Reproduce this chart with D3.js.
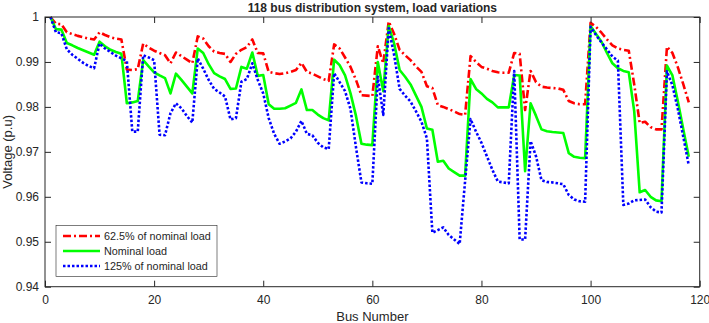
<!DOCTYPE html>
<html>
<head>
<meta charset="utf-8">
<script src="https://cdn.jsdelivr.net/npm/d3@7"></script>
<style>
  body { margin: 0; background: #fff; }
  text { font-family: "Liberation Sans", Arial, sans-serif; fill: #262626; }
</style>
</head>
<body>
<div id="chart"></div>
<script>
// 118 bus distribution system - voltage profile under three load levels

//////////////////////////////////////////////////////////////////////////////
// Data

var buses = d3.range(1, 119);

var v62 = [
  1.0, 0.9985, 0.9984, 0.9966, 0.9962, 0.9958, 0.9955, 0.9952, 0.995, 0.9966,
  0.996, 0.9955, 0.9952, 0.995, 0.9883, 0.9882, 0.9884, 0.9941, 0.9932, 0.9925,
  0.992, 0.9915, 0.9897, 0.9921, 0.9913, 0.9905, 0.9897, 0.9957, 0.9952, 0.9935,
  0.9923, 0.992, 0.9918, 0.990, 0.9918, 0.9927, 0.9933, 0.995, 0.992, 0.9919,
  0.9878, 0.9875, 0.9873, 0.9875, 0.9878, 0.9882, 0.9898, 0.9878, 0.9874, 0.9868,
  0.9862, 0.9858, 0.9939, 0.993, 0.991, 0.9889, 0.986, 0.9826, 0.9825, 0.9824,
  0.9935, 0.9897, 0.999, 0.9962, 0.9927, 0.9915, 0.9904, 0.989, 0.9878, 0.9846,
  0.9842, 0.9804, 0.980, 0.9795, 0.979, 0.9784, 0.9782, 0.9913, 0.990, 0.9889,
  0.9885, 0.988, 0.9877, 0.9876, 0.9876, 0.992, 0.9918, 0.9793, 0.988, 0.9855,
  0.9845, 0.9843, 0.9842, 0.9841, 0.9838, 0.9813, 0.9808, 0.9806, 0.9806, 0.9987,
  0.9978, 0.9965, 0.995, 0.9937, 0.993, 0.9927, 0.9925, 0.985, 0.9764, 0.9767,
  0.9755, 0.975, 0.975, 0.9934, 0.992, 0.9888, 0.985, 0.981
];

var v100 = [
  1.0, 0.9973, 0.9972, 0.9942, 0.9937, 0.9931, 0.9926, 0.9921, 0.9916, 0.9945,
  0.9935, 0.9927, 0.9922, 0.9918, 0.9808, 0.981, 0.9813, 0.9904, 0.989, 0.9877,
  0.987, 0.9864, 0.983, 0.9874, 0.986, 0.9845, 0.983, 0.993, 0.992, 0.9895,
  0.9875, 0.9868, 0.9862, 0.984, 0.9841, 0.9889, 0.9885, 0.9921, 0.9869, 0.9871,
  0.9806, 0.9796, 0.9796, 0.9797, 0.9803, 0.9809, 0.9839, 0.9793, 0.9793, 0.9783,
  0.9775, 0.977, 0.9905, 0.9893, 0.987, 0.983, 0.978, 0.9718, 0.9716, 0.9715,
  0.990, 0.9835, 0.998, 0.9941, 0.9882, 0.9867, 0.985, 0.9825, 0.980, 0.9752,
  0.9749, 0.9678, 0.968, 0.9663, 0.9655, 0.9647, 0.9647, 0.9862, 0.984, 0.983,
  0.9818, 0.981, 0.9799, 0.9799, 0.9799, 0.9871, 0.987, 0.9657, 0.9808, 0.978,
  0.975, 0.9746, 0.9744, 0.9743, 0.9742, 0.9697, 0.9689, 0.9687, 0.9686, 0.998,
  0.9962, 0.9945, 0.992, 0.9897, 0.9886, 0.988, 0.9877, 0.979, 0.961, 0.9615,
  0.960, 0.9592, 0.959, 0.9892, 0.987, 0.9812, 0.975, 0.9689
];

var v125 = [
  1.0, 0.9966, 0.9964, 0.9928, 0.9916, 0.9907, 0.9898, 0.9891, 0.9886, 0.9941,
  0.993, 0.9922, 0.9914, 0.9908, 0.9902, 0.9745, 0.9745, 0.9915, 0.991, 0.9904,
  0.9738, 0.9737, 0.9786, 0.9808, 0.9797, 0.978, 0.9765, 0.9908, 0.9885, 0.986,
  0.984, 0.9832, 0.9823, 0.9772, 0.9775, 0.9856, 0.9862, 0.9897, 0.986, 0.983,
  0.9775, 0.974, 0.9718, 0.9723, 0.973, 0.9745, 0.9769, 0.974, 0.9737, 0.972,
  0.971, 0.9706, 0.9875, 0.9855, 0.9835, 0.9795, 0.971, 0.9632, 0.963, 0.9629,
  0.9867, 0.9782, 0.9975, 0.9915, 0.984, 0.9825, 0.9812, 0.979, 0.9767, 0.973,
  0.952, 0.9526, 0.9532, 0.9515, 0.9505, 0.9495, 0.9635, 0.9773, 0.9745, 0.972,
  0.969, 0.966, 0.9634, 0.9632, 0.963, 0.988, 0.9505, 0.9505, 0.9724, 0.969,
  0.9637, 0.9633, 0.9632, 0.963, 0.9628, 0.9604, 0.9594, 0.959, 0.9589, 0.9978,
  0.996, 0.9943, 0.9928, 0.9912, 0.9903, 0.9582, 0.9585, 0.9592, 0.9593, 0.9594,
  0.9577, 0.9567, 0.9565, 0.9879, 0.9848, 0.9795, 0.9733, 0.967
];

var seriesNames = ["62.5% of nominal load", "Nominal load", "125% of nominal load"];
var xTicks = [0, 20, 40, 60, 80, 100, 120];
var yTicks = [0.94, 0.95, 0.96, 0.97, 0.98, 0.99, 1];

//////////////////////////////////////////////////////////////////////////////
// Layout and scales

var width = 709, height = 323;
var plot = { left: 45, right: 699.7, top: 17, bottom: 286.7 };

var xScale = d3.scaleLinear().domain([0, 120]).range([plot.left, plot.right]);
var yScale = d3.scaleLinear().domain([0.94, 1]).range([plot.bottom, plot.top]);

var styles = [
  { color: "#ff0000", dash: "8,3,2,3" },
  { color: "#00ff00", dash: null },
  { color: "#0000ff", dash: "2.5,2" }
];

var svg = d3.select("#chart").append("svg")
    .attr("width", width)
    .attr("height", height);

svg.append("rect")
    .attr("x", plot.left).attr("y", plot.top)
    .attr("width", plot.right - plot.left)
    .attr("height", plot.bottom - plot.top)
    .attr("fill", "#fff");

//////////////////////////////////////////////////////////////////////////////
// Lines

var line = d3.line()
    .x(function(d) { return xScale(d[0]); })
    .y(function(d) { return yScale(d[1]); });

[v62, v100, v125].forEach(function(vals, i) {
    svg.append("path")
        .datum(buses.map(function(b, j) { return [b, vals[j]]; }))
        .attr("d", line)
        .attr("fill", "none")
        .attr("stroke", styles[i].color)
        .attr("stroke-width", 2.6)
        .attr("stroke-dasharray", styles[i].dash)
        .attr("stroke-linejoin", "round");
});

//////////////////////////////////////////////////////////////////////////////
// Axes (MATLAB style: inward ticks on all four sides)

function styleAxis(g) {
    g.select(".domain").remove();
    g.selectAll(".tick line").attr("stroke", "#262626");
    g.selectAll(".tick text").attr("font-size", 12).attr("fill", "#262626")
        .attr("font-family", "Liberation Sans, Arial, sans-serif");
}

svg.append("g")
    .attr("transform", "translate(0," + plot.bottom + ")")
    .call(d3.axisBottom(xScale).tickValues(xTicks).tickSize(-6).tickPadding(9)
        .tickFormat(d3.format("d")))
    .call(styleAxis);

svg.append("g")
    .attr("transform", "translate(0," + plot.top + ")")
    .call(d3.axisTop(xScale).tickValues(xTicks).tickSize(-6).tickFormat(""))
    .call(styleAxis);

svg.append("g")
    .attr("transform", "translate(" + plot.left + ",0)")
    .call(d3.axisLeft(yScale).tickValues(yTicks).tickSize(-6).tickPadding(6)
        .tickFormat(function(d) { return d === 1 ? "1" : d3.format(".2f")(d); }))
    .call(styleAxis);

svg.append("g")
    .attr("transform", "translate(" + plot.right + ",0)")
    .call(d3.axisRight(yScale).tickValues(yTicks).tickSize(-6).tickFormat(""))
    .call(styleAxis);

svg.append("rect")
    .attr("x", plot.left).attr("y", plot.top)
    .attr("width", plot.right - plot.left)
    .attr("height", plot.bottom - plot.top)
    .attr("fill", "none")
    .attr("stroke", "#262626")
    .attr("stroke-width", 1);

//////////////////////////////////////////////////////////////////////////////
// Titles

svg.append("text")
    .attr("x", (plot.left + plot.right) / 2)
    .attr("y", 12)
    .attr("text-anchor", "middle")
    .attr("font-size", 12)
    .attr("font-weight", "bold")
    .attr("fill", "#000")
    .text("118 bus distribution system, load variations");

svg.append("text")
    .attr("x", (plot.left + plot.right) / 2)
    .attr("y", 321)
    .attr("text-anchor", "middle")
    .attr("font-size", 13)
    .text("Bus Number");

svg.append("text")
    .attr("transform", "translate(12," + ((plot.top + plot.bottom) / 2) + ") rotate(-90)")
    .attr("text-anchor", "middle")
    .attr("font-size", 13)
    .text("Voltage (p.u)");

//////////////////////////////////////////////////////////////////////////////
// Legend

var legend = svg.append("g").attr("transform", "translate(56,225.5)");

legend.append("rect")
    .attr("width", 161).attr("height", 51)
    .attr("fill", "#fff")
    .attr("stroke", "#262626")
    .attr("stroke-width", 0.6);

seriesNames.forEach(function(name, i) {
    var y = 10.5 + i * 15;
    legend.append("line")
        .attr("x1", 7).attr("x2", 44)
        .attr("y1", y).attr("y2", y)
        .attr("stroke", styles[i].color)
        .attr("stroke-width", 2.6)
        .attr("stroke-dasharray", styles[i].dash);
    legend.append("text")
        .attr("x", 48).attr("y", y)
        .attr("dy", "0.35em")
        .attr("font-size", 10.8)
        .attr("fill", "#000")
        .text(name);
});
</script>
</body>
</html>
